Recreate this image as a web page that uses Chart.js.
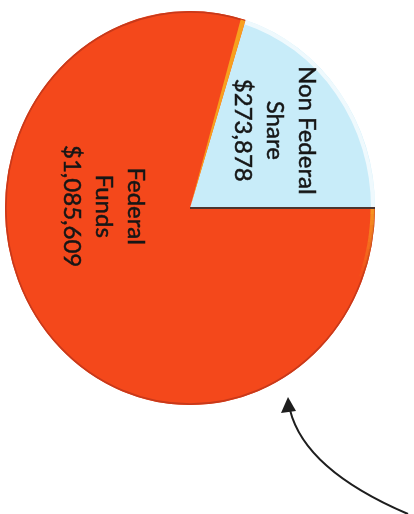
<!DOCTYPE html>
<html>
<head>
<meta charset="utf-8">
<script src="https://cdn.jsdelivr.net/npm/chart.js@4.4.1/dist/chart.umd.min.js"></script>
<style>
  html, body { margin: 0; padding: 0; background: #fff; }
  #wrap { width: 414px; height: 514px; }
</style>
</head>
<body>
<div id="wrap"><canvas id="fundChart" width="414" height="514"></canvas></div>
<script>
// data
const categories = ["Non Federal Share", "Federal Funds"];
const amounts = [273878, 1085609];
const labelLines = [["Non Federal", "Share", "$273,878"], ["Federal", "Funds", "$1,085,609"]];
const sliceColors = ["#c8ecf9", "#f4481b"];

const total = amounts.reduce((a, b) => a + b, 0);
// non federal slice ends exactly at 3 o'clock
const startRotation = 90 - 360 * amounts[0] / total;

// the pie in the picture is a bit taller than wide
const SQUASH = 1.065;
// where each label block sits, as fraction of radius from the centre
const labelOffsets = [[0.46, -0.42], [-0.465, -0.01]];

const ellipsePlugin = {
  id: "ellipse",
  beforeDatasetsDraw(chart) {
    const arc = chart.getDatasetMeta(0).data[0];
    const ctx = chart.ctx;
    ctx.save();
    ctx.translate(arc.x, arc.y);
    ctx.scale(1, SQUASH);
    ctx.translate(-arc.x, -arc.y);
  },
  afterDatasetsDraw(chart) {
    const ctx = chart.ctx;
    const arcs = chart.getDatasetMeta(0).data;
    const nf = arcs[0], fed = arcs[1];
    const cx = fed.x, cy = fed.y, r = fed.outerRadius;

    // darker rim round the red slice
    ctx.beginPath();
    ctx.arc(cx, cy, r - 0.8, fed.startAngle, fed.endAngle);
    ctx.strokeStyle = "#c8391a";
    ctx.lineWidth = 1.6;
    ctx.stroke();

    // pale rim on the blue slice
    ctx.beginPath();
    ctx.arc(cx, cy, r - 2, nf.startAngle, nf.endAngle);
    ctx.strokeStyle = "rgba(255,255,255,0.7)";
    ctx.lineWidth = 4;
    ctx.stroke();

    // orange highlight along the upper cut
    const e = fed.endAngle;
    ctx.beginPath();
    ctx.moveTo(cx, cy);
    ctx.arc(cx, cy, r - 1, e - 0.026, e);
    ctx.closePath();
    ctx.fillStyle = "#f7a01e";
    ctx.fill();

    // yellowish edge at the right below the cut, fading out
    for (let k = 0; k < 12; k++) {
      const a0 = fed.startAngle + k * 0.03;
      ctx.beginPath();
      ctx.arc(cx, cy, r - 2.5, a0, a0 + 0.031);
      ctx.strokeStyle = "rgba(247,165,35," + (0.8 * (1 - k / 12)).toFixed(2) + ")";
      ctx.lineWidth = 4;
      ctx.stroke();
    }

    // dark line along the horizontal cut
    ctx.beginPath();
    ctx.moveTo(cx, cy);
    ctx.lineTo(cx + r * Math.cos(fed.startAngle), cy + r * Math.sin(fed.startAngle));
    ctx.strokeStyle = "#4b3530";
    ctx.lineWidth = 2;
    ctx.stroke();

    ctx.restore();
  },
  afterDraw(chart) {
    const ctx = chart.ctx;
    const arcs = chart.getDatasetMeta(0).data;
    ctx.save();
    ctx.font = "24px Lato";
    ctx.fillStyle = "#161616";
    ctx.strokeStyle = "#161616";
    ctx.lineWidth = 0.5;
    ctx.textAlign = "center";
    ctx.textBaseline = "middle";
    arcs.forEach((arc, i) => {
      const lx = arc.x + labelOffsets[i][0] * arc.outerRadius;
      const ly = arc.y + labelOffsets[i][1] * arc.outerRadius;
      const lines = labelLines[i];
      ctx.save();
      ctx.translate(lx, ly);
      ctx.rotate(Math.PI / 2);
      lines.forEach((t, j) => {
        const y = (j - (lines.length - 1) / 2) * 32;
        ctx.fillText(t, 0, y);
        ctx.strokeText(t, 0, y);
      });
      ctx.restore();
    });

    // pointer arrow below the pie
    ctx.beginPath();
    ctx.moveTo(408, 514);
    ctx.quadraticCurveTo(305, 470, 290, 410);
    ctx.strokeStyle = "#1e1e1e";
    ctx.lineWidth = 2;
    ctx.stroke();
    ctx.beginPath();
    ctx.moveTo(288, 397);
    ctx.lineTo(281, 413);
    ctx.lineTo(296, 411);
    ctx.closePath();
    ctx.fillStyle = "#1e1e1e";
    ctx.fill();
    ctx.restore();
  }
};

new Chart(document.getElementById("fundChart"), {
  type: "pie",
  data: {
    labels: categories,
    datasets: [{
      data: amounts,
      backgroundColor: sliceColors,
      borderWidth: 0,
      clip: false
    }]
  },
  options: {
    responsive: false,
    animation: false,
    rotation: startRotation,
    layout: { padding: { left: 5, right: 39, top: 23, bottom: 121 } },
    plugins: {
      legend: { display: false },
      tooltip: { enabled: false }
    }
  },
  plugins: [ellipsePlugin]
});
</script>
</body>
</html>
